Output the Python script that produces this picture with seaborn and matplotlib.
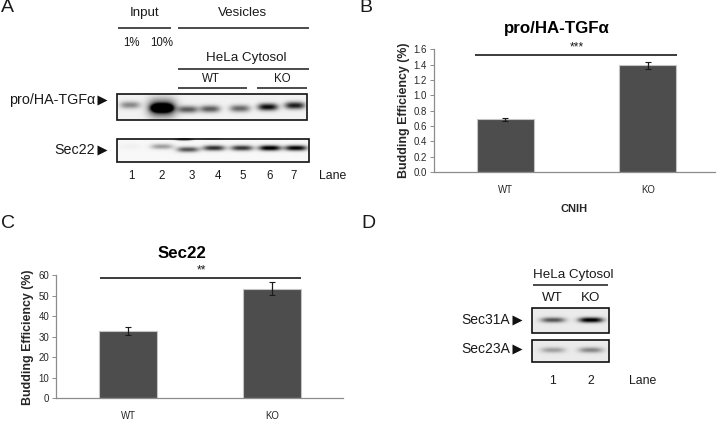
import numpy as np
import pandas as pd
import matplotlib
matplotlib.use('Agg')
import matplotlib.pyplot as plt
import seaborn as sns

# bar values
genotypes = ['WT', 'KO']
tgfa_eff = [0.69, 1.39]
tgfa_err = [0.02, 0.05]
sec22_eff = [33, 53.5]
sec22_err = [2, 3]
tgfa_ticks = [0.0, 0.2, 0.4, 0.6, 0.8, 1.0, 1.2, 1.4, 1.6]
sec22_ticks = [0, 10, 20, 30, 40, 50, 60]

# blot band darkness per lane
tgfa_bands = [0.42, 1.5, 0.6, 0.6, 0.55, 0.92, 0.85]
sec22_bands = [0.03, 0.35, 0.65, 0.8, 0.78, 1.05, 1.0]
sec31_bands = [0.6, 1.0]
sec23_bands = [0.3, 0.4]

W, H = 720, 429
sns.set_style('white')
plt.rcParams['font.family'] = ['Liberation Sans', 'DejaVu Sans']
GREY = '#4d4d4d'
AXC = '#8c8c8c'

fig = plt.figure(figsize=(W / 100, H / 100), dpi=100)


def px_axes(l, t, r, b):
    return fig.add_axes([l / W, 1 - b / H, (r - l) / W, (b - t) / H])


def bar_panel(rect, vals, errs, ticks, xlim, fmt):
    ax = px_axes(*rect)
    df = pd.DataFrame({'CNIH': genotypes, 'eff': vals})
    sns.barplot(data=df, x='CNIH', y='eff', color=GREY, saturation=1, width=0.4,
                edgecolor='#c4c4c4', linewidth=0.8, ax=ax)
    ax.errorbar([0, 1], vals, yerr=errs, fmt='none', ecolor='#1a1a1a', elinewidth=0.9,
                capsize=2, capthick=0.8)
    ax.set_xlim(*xlim)
    ax.set_ylim(ticks[0], ticks[-1])
    ax.set_yticks(ticks)
    ax.set_yticklabels([fmt % t for t in ticks], fontsize=6.9, color='#262626')
    ax.tick_params(axis='y', left=True, length=3, width=0.7, color=AXC, pad=2)
    ax.tick_params(axis='x', bottom=False, labelsize=6.9, labelcolor='#262626', pad=6)
    ax.set_xlabel('CNIH', fontsize=8, fontweight='bold', labelpad=6)
    ax.set_ylabel('Budding Efficiency (%)', fontsize=8.9, fontweight='bold', labelpad=3)
    sns.despine(ax=ax)
    for s in ['left', 'bottom']:
        ax.spines[s].set_color(AXC)
        ax.spines[s].set_linewidth(0.9)
    return ax


bar_panel((434, 49.3, 715, 172), tgfa_eff, tgfa_err, tgfa_ticks, (-0.5, 1.47), '%.1f')
bar_panel((56, 275.3, 343, 398.3), sec22_eff, sec22_err, sec22_ticks, (-0.5, 1.49), '%d')

# overlay in pixel coordinates for the blots and labels
ov = fig.add_axes([0, 0, 1, 1])
ov.patch.set_alpha(0)
ov.axis('off')


def blot(box, lanes, darkness, ys, wx, wy, bg=0.93, extra=()):
    x0, y0, x1, y1 = box
    xx, yy = np.meshgrid(np.linspace(x0, x1, int((x1 - x0) * 3)),
                         np.linspace(y0, y1, int((y1 - y0) * 3)))
    dark = np.zeros_like(xx)
    bands = [(lx, ly, d, wx, wy) for lx, ly, d in zip(lanes, ys, darkness)] + list(extra)
    for lx, ly, d, sx, sy in bands:
        dark += d * np.exp(-((np.abs(xx - lx) / sx) ** 3) - ((yy - ly) / sy) ** 2)
    img = np.clip(bg - dark, 0, 1)
    ov.imshow(img, cmap='gray', vmin=0, vmax=1, extent=(x0, x1, y1, y0), aspect='auto',
              interpolation='bilinear', zorder=1)
    ov.add_patch(plt.Rectangle((x0, y0), x1 - x0, y1 - y0, fill=False, ec='#111111', lw=1.2, zorder=2))


def line(x0, x1, y, lw=1.1):
    ov.plot([x0, x1], [y, y], color='#1a1a1a', lw=lw, solid_capstyle='butt')


def txt(x, y, s, size=9.6, ha='center', **kw):
    ov.text(x, y, s, fontsize=size, ha=ha, va='center', color=kw.pop('color', '#1a1a1a'), **kw)


def arrow(x, y):
    ov.plot([x], [y], marker='>', ms=7.5, color='#111111', mec='none')


# panel A
blot((117, 94, 307, 120), [130, 162, 188, 210, 240, 268, 295], tgfa_bands,
     [105, 108, 109.5, 109, 108.5, 107, 105.5], 10, 3.6, bg=0.95,
     extra=[(162, 108, 0.8, 14, 9)])
blot((117, 138.5, 309, 161.5), [130, 162, 188, 214, 242, 270, 296], sec22_bands,
     [147, 147, 150, 148.5, 148.5, 148.5, 148.5], 11, 2.7, bg=0.97,
     extra=[(184, 139.5, 0.95, 8, 1.3), (212, 139, 0.3, 10, 0.9)])
line(118, 171, 27.5)
line(178, 309, 27.5)
line(178, 309, 68.5)
line(178, 247, 87.5)
line(257, 307, 87.5)
txt(145, 13, 'Input')
txt(243, 13, 'Vesicles')
txt(131, 43.5, '1%', size=8.3)
txt(162, 43.5, '10%', size=8.3)
txt(246, 58, 'HeLa Cytosol')
txt(211, 78.5, 'WT', size=8.3)
txt(282, 78.5, 'KO', size=8.3)
txt(95, 100, 'pro/HA-TGFα', size=10.3, ha='right')
txt(95, 150, 'Sec22', size=10.3, ha='right')
arrow(102, 100)
arrow(102, 150)
for lx, lab in zip([131, 162, 192, 218, 243, 270, 294], '1234567'):
    txt(lx, 176, lab, size=8.3)
txt(333, 176, 'Lane', size=8.8)

# panels B and C annotations
line(475, 677, 55, lw=1.2)
txt(577, 47.5, '***', size=8.6)
txt(557, 29, 'pro/HA-TGFα', size=12.2, fontweight='bold', color='black')
line(100, 301, 277.7, lw=1.2)
txt(202, 270.5, '**', size=8.6)
txt(182, 254, 'Sec22', size=12.2, fontweight='bold', color='black')

# panel D
blot((532, 308, 609, 333), [553, 591], sec31_bands, [320, 320], 12, 2.6, bg=0.92)
blot((532, 340, 609, 362), [553, 591], sec23_bands, [350, 350], 12, 2.8, bg=0.92)
line(533, 608, 285)
txt(573, 275, 'HeLa Cytosol')
txt(552, 298, 'WT')
txt(591, 298, 'KO')
txt(510, 320, 'Sec31A', size=10, ha='right')
txt(510, 349, 'Sec23A', size=10, ha='right')
arrow(517, 320)
arrow(517, 349)
txt(552, 381, '1', size=8.8)
txt(591, 381, '2', size=8.8)
txt(643, 381, 'Lane', size=8.8)

# panel letters
txt(7, 8, 'A', size=14)
txt(366, 8, 'B', size=14)
txt(8, 224, 'C', size=14)
txt(368, 224, 'D', size=14)

ov.set_xlim(0, W)
ov.set_ylim(H, 0)

fig.savefig('out.png', dpi=100)
